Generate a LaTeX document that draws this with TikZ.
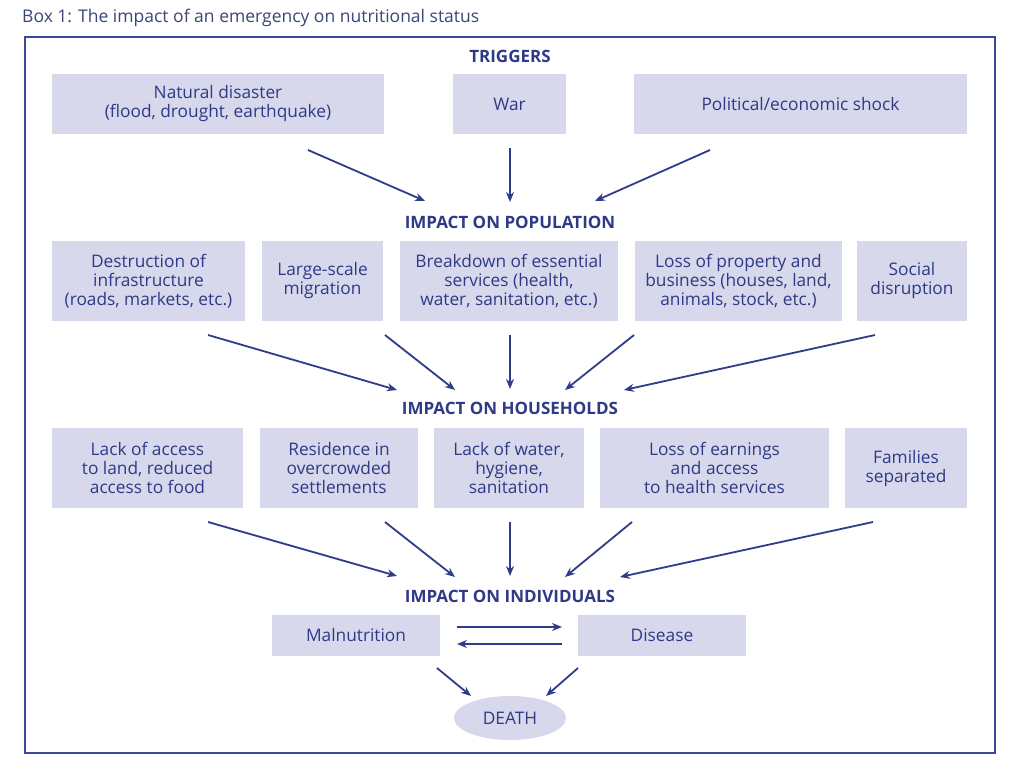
\documentclass[tikz,border=0pt]{standalone}
\usepackage{fontspec}
\setmainfont{Open Sans}
\usetikzlibrary{arrows.meta,shapes.geometric}
\definecolor{txt}{HTML}{2E3A86}
\definecolor{fillc}{HTML}{D7D8EB}
\definecolor{arr}{HTML}{2F3C8A}
\definecolor{frame}{HTML}{3B4A98}
\definecolor{ttl}{HTML}{3A4778}
\tikzset{
  box/.style={fill=fillc,draw=none,text=txt,align=center,font=\fontsize{17.3}{19}\selectfont,inner sep=0pt},
  head/.style={text=txt,font=\bfseries\fontsize{17}{19}\selectfont,inner sep=0pt},
  link/.style={draw=arr,line width=1.8pt,-{Stealth[length=10pt,width=8pt]}},
}
\newcommand{\boxat}[6]{\node[box,minimum width=#4-#2,minimum height=#5-#3] (#1) at ({(#2+#4)/2},{(#3+#5)/2}) {#6};}
\begin{document}
\begin{tikzpicture}[x=1pt,y=-1pt]
\useasboundingbox (0,0) rectangle (1024,768);
\fill[white] (0,0) rectangle (1024,768);
\node[anchor=west,text=ttl,font=\fontsize{17.5}{19}\selectfont,inner sep=0pt] (title) at (22,18) {Box 1: The impact of an emergency on nutritional status};
\draw[frame,line width=1.2pt] (25,37) rectangle (995,753);
% headings
\node[head] (h1) at (510,56) {TRIGGERS};
\node[head] (h2) at (510,222) {IMPACT ON POPULATION};
\node[head] (h3) at (510,408) {IMPACT ON HOUSEHOLDS};
\node[head] (h4) at (510,596) {IMPACT ON INDIVIDUALS};
% row 1
\boxat{t1}{52}{74}{384}{134}{Natural disaster\\(flood, drought, earthquake)}
\boxat{t2}{453}{74}{566}{134}{War}
\boxat{t3}{634}{74}{967}{134}{Political/economic shock}
% row 2
\boxat{p1}{52}{241}{245}{321}{Destruction of\\infrastructure\\(roads, markets, etc.)}
\boxat{p2}{262}{241}{383}{321}{Large-scale\\migration}
\boxat{p3}{400}{241}{618}{321}{Breakdown of essential\\services (health,\\water, sanitation, etc.)}
\boxat{p4}{635}{241}{842}{321}{Loss of property and\\business (houses, land,\\animals, stock, etc.)}
\boxat{p5}{857}{241}{967}{321}{Social\\disruption}
% row 3
\boxat{hh1}{52}{428}{243}{508}{Lack of access\\to land, reduced\\access to food}
\boxat{hh2}{260}{428}{418}{508}{Residence in\\overcrowded\\settlements}
\boxat{hh3}{434}{428}{584}{508}{Lack of water,\\hygiene,\\sanitation}
\boxat{hh4}{600}{428}{829}{508}{Loss of earnings\\and access\\to health services}
\boxat{hh5}{845}{428}{967}{508}{Families\\separated}
% row 4
\boxat{mal}{272}{615}{440}{656}{Malnutrition}
\boxat{dis}{578}{615}{746}{656}{Disease}
\node[ellipse,fill=fillc,text=txt,font=\fontsize{17.3}{19}\selectfont,minimum width=112pt,minimum height=44pt,inner sep=0pt] (death) at (510,718) {DEATH};
% arrow coordinates
\coordinate (a1s) at (308,150); \coordinate (a1e) at (425,201);
\coordinate (a2s) at (510,148); \coordinate (a2e) at (510,202);
\coordinate (a3s) at (710,150); \coordinate (a3e) at (595,201);
\draw[link] (a1s) -- (a1e);
\draw[link] (a2s) -- (a2e);
\draw[link] (a3s) -- (a3e);
\coordinate (b1s) at (208,335); \coordinate (b1e) at (397,390);
\coordinate (b2s) at (385,335); \coordinate (b2e) at (455,390);
\coordinate (b3s) at (510,335); \coordinate (b3e) at (510,389);
\coordinate (b4s) at (634,335); \coordinate (b4e) at (565,390);
\coordinate (b5s) at (875,335); \coordinate (b5e) at (624,390);
\foreach \i in {1,...,5} {\draw[link] (b\i s) -- (b\i e);}
\coordinate (c1s) at (208,522); \coordinate (c1e) at (397,576);
\coordinate (c2s) at (385,522); \coordinate (c2e) at (455,577);
\coordinate (c3s) at (510,522); \coordinate (c3e) at (510,576);
\coordinate (c4s) at (632,522); \coordinate (c4e) at (565,577);
\coordinate (c5s) at (873,522); \coordinate (c5e) at (620,577);
\foreach \i in {1,...,5} {\draw[link] (c\i s) -- (c\i e);}
\coordinate (m1) at (457,627); \coordinate (m2) at (562,627);
\coordinate (m3) at (562,644); \coordinate (m4) at (457,644);
\draw[link] (m1) -- (m2);
\draw[link] (m3) -- (m4);
\coordinate (d1) at (437,668); \coordinate (d2) at (471,696);
\coordinate (d3) at (578,668); \coordinate (d4) at (546,696);
\draw[link] (d1) -- (d2);
\draw[link] (d3) -- (d4);
\end{tikzpicture}
\end{document}
